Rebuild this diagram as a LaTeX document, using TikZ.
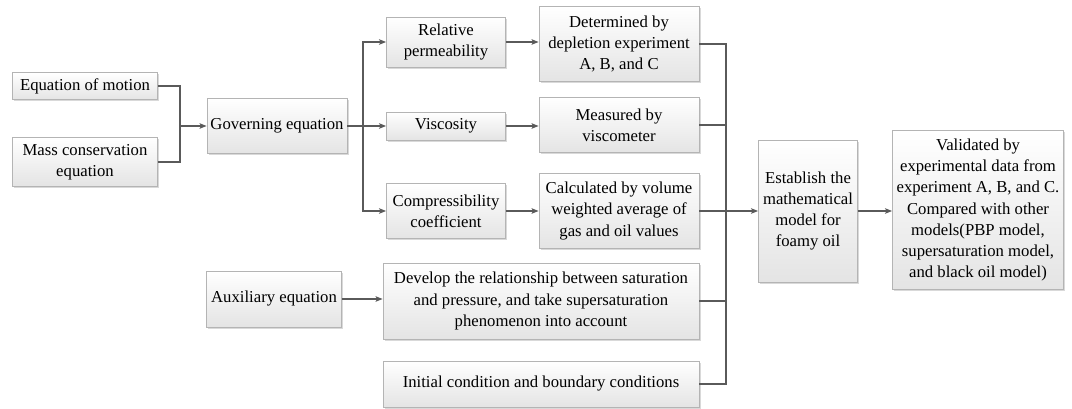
\documentclass[tikz,border=0pt]{standalone}
\usepackage{fontspec}
\setmainfont{Liberation Serif}
\usetikzlibrary{shadows,arrows.meta}
\definecolor{linec}{HTML}{5A5A5A}
\definecolor{boxline}{HTML}{B4B4B4}
\definecolor{boxbot}{HTML}{E4E4E4}
\begin{document}
\begin{tikzpicture}[x=1pt,y=-1pt,
  fbox/.style={draw=boxline, line width=0.9pt, top color=white, bottom color=boxbot,
    drop shadow={opacity=0.3, shadow xshift=1.5pt, shadow yshift=-1.5pt},
    inner sep=0pt, align=center, font=\fontsize{16.7}{21.3}\selectfont},
  conn/.style={draw=linec, line width=1.2pt},
  arr/.style={conn, -{Stealth[length=7pt,width=5.5pt,inset=1.5pt]}}]
\useasboundingbox (0,0) rectangle (1072,408);
\node[fbox, minimum width=145, minimum height=27] (eom) at (85,86) {Equation of motion};
\node[fbox, minimum width=145, minimum height=49] (mce) at (85,162) {Mass conservation\\equation};
\node[fbox, minimum width=140, minimum height=55] (gov) at (277,126) {Governing equation};
\node[fbox, minimum width=119, minimum height=50] (rp) at (446,42) {Relative\\permeability};
\node[fbox, minimum width=119, minimum height=28] (vis) at (446,126) {Viscosity};
\node[fbox, minimum width=119, minimum height=55] (cc) at (446,211) {Compressibility\\coefficient};
\node[fbox, minimum width=160, minimum height=75] (det) at (619,44) {Determined by\\depletion experiment\\A, B, and C};
\node[fbox, minimum width=160, minimum height=55] (mea) at (619,125) {Measured by\\viscometer};
\node[fbox, minimum width=160, minimum height=75] (cal) at (619,211) {Calculated by volume\\weighted average of\\gas and oil values};
\node[fbox, minimum width=135, minimum height=56] (aux) at (274,299) {Auxiliary equation};
\node[fbox, minimum width=316, minimum height=76] (dev) at (541,301) {Develop the relationship between saturation\\and pressure, and take supersaturation\\phenomenon into account};
\node[fbox, minimum width=316, minimum height=46] (ini) at (541,384) {Initial condition and boundary conditions};
\node[fbox, minimum width=99, minimum height=142] (est) at (808,211) {Establish the\\mathematical\\model for\\foamy oil};
\node[fbox, minimum width=171, minimum height=159] (val) at (978,210) {Validated by\\experimental data from\\experiment A, B, and C.\\Compared with other\\models(PBP model,\\supersaturation model,\\and black oil model)};
\coordinate (b1) at (180,126);
\coordinate (b2) at (363,126);
\coordinate (b3) at (726,211);
\draw[conn] (eom.east) -| (b1);
\draw[conn] (mce.east) -| (b1);
\draw[arr] (b1) -- (gov.west);
\draw[conn] (gov.east) -- (b2);
\draw[arr] (b2) |- (rp.west);
\draw[arr] (b2) -- (vis.west);
\draw[arr] (b2) |- (cc.west);
\draw[arr] (rp.east) -- (det.west |- rp.east);
\draw[arr] (vis.east) -- (mea.west |- vis.east);
\draw[arr] (cc.east) -- (cal.west);
\draw[arr] (aux.east) -- (dev.west |- aux.east);
\draw[conn] (det.east) -| (b3);
\draw[conn] (mea.east) -| (b3);
\draw[conn] (cal.east) -- (b3);
\draw[conn] (dev.east) -| (b3);
\draw[conn] (ini.east) -| (b3);
\draw[arr] (b3) -- (est.west);
\draw[arr] (est.east) -- (val.west |- est.east);
\end{tikzpicture}
\end{document}
